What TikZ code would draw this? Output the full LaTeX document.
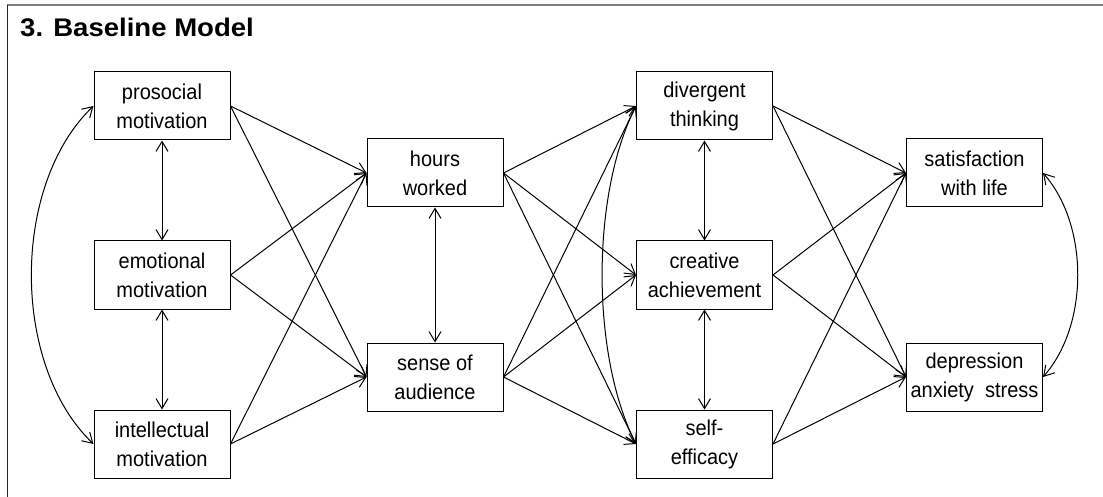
\documentclass[tikz,border=0pt]{standalone}
\usepackage{fontspec}
\setmainfont{Liberation Sans}[FakeStretch=0.93]
\newfontfamily\titlefont{Liberation Sans}[FakeStretch=1.08]
\usetikzlibrary{arrows.meta}
\begin{document}
\begin{tikzpicture}[x=1pt,y=-1pt,
  box/.style={draw, line width=1pt, minimum width=136pt, minimum height=68pt, inner sep=0pt, align=center, font=\fontsize{21.5pt}{29pt}\selectfont},
  arr/.style={line width=1pt, -{Straight Barb[length=10pt,width=12pt]}},
  dbl/.style={line width=1pt, {Straight Barb[length=10pt,width=12pt]}-{Straight Barb[length=10pt,width=12pt]}}]
\useasboundingbox (0,0) rectangle (1103,497);
\draw[gray, line width=1.2pt] (7,5) -- (1103,5);
\draw[black!85, line width=1pt] (7,5) -- (7,497);
\node[anchor=base west, font=\titlefont\bfseries\fontsize{25.5pt}{30pt}\selectfont, inner sep=0pt] (title) at (20,37) {3. Baseline Model};
% column 1
\node[box] (pro) at (162,106) {prosocial\\motivation};
\node[box] (emo) at (162,275) {emotional\\motivation};
\node[box] (int) at (162,444) {intellectual\\motivation};
% column 2
\node[box] (hrs) at (435,173) {hours\\worked};
\node[box] (aud) at (435,377) {sense of\\audience};
% column 3
\node[box] (div) at (704.5,106) {divergent\\thinking};
\node[box] (cre) at (704.5,275) {creative\\achievement};
\node[box] (sef) at (704.5,444) {self-\\efficacy};
% column 4
\node[box] (sat) at (974.5,173) {satisfaction\\with life};
\node[box] (das) at (974.5,377) {depression\\anxiety\ \ stress};
% paths col1 -> col2
\foreach \s in {pro,emo,int}{
  \foreach \t in {hrs,aud}{
    \draw[arr] (\s.east) -- (\t.west);
  }
}
% col2 -> col3
\foreach \s in {hrs,aud}{
  \foreach \t in {div,cre,sef}{
    \draw[arr] (\s.east) -- (\t.west);
  }
}
% col3 -> col4
\foreach \s in {div,cre,sef}{
  \foreach \t in {sat,das}{
    \draw[arr] (\s.east) -- (\t.west);
  }
}
% vertical covariances
\draw[dbl] (pro.south) -- (emo.north);
\draw[dbl] (emo.south) -- (int.north);
\draw[dbl] (hrs.south) -- (aud.north);
\draw[dbl] (div.south) -- (cre.north);
\draw[dbl] (cre.south) -- (sef.north);
% curved covariances
\draw[dbl] (pro.west) .. controls (11,185) and (11,365) .. (int.west);
\draw[dbl] (div.west) .. controls (591,195) and (591,355) .. (sef.west);
\draw[dbl] (sat.east) .. controls (1089,225) and (1089,325) .. (das.east);
\end{tikzpicture}
\end{document}
